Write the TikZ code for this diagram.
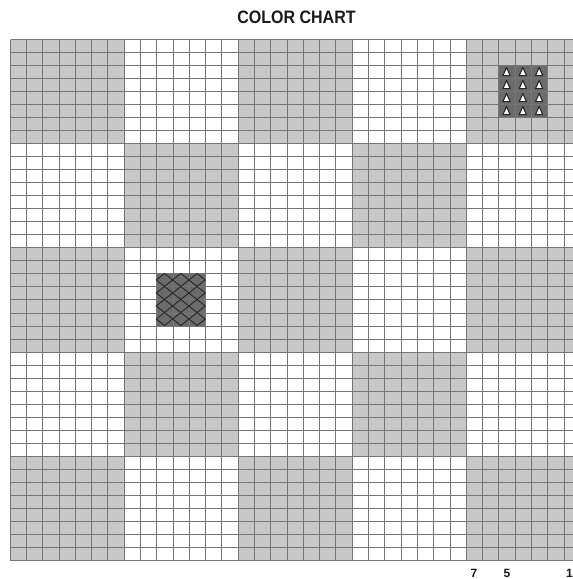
\documentclass[tikz,border=0pt]{standalone}
\usepackage{fontspec}
\setmainfont{Liberation Sans}
\definecolor{cgray}{HTML}{C8C8C8}
\definecolor{cdark}{HTML}{6B6B6B}
\definecolor{cline}{HTML}{767676}
\definecolor{ctext}{HTML}{1A1A1A}
\tikzset{
  gridline/.style={draw=cline,line width=1.15pt},
  hatch/.style={draw=black!85,line width=0.9pt},
  tri/.style={fill=white,draw=black!85,line width=1.1pt,line join=round},
  titletext/.style={font=\bfseries\fontsize{18}{20}\selectfont,text=ctext,inner sep=0pt},
  numtext/.style={font=\bfseries\fontsize{12}{14}\selectfont,text=ctext,inner sep=0pt}
}
\begin{document}
\begin{tikzpicture}[x=1pt,y=-1pt]
\useasboundingbox (0,0) rectangle (573,579);
\fill[white] (0,0) rectangle (573,579);
\def\W{16.29}\def\H{13.025}\def\X{9.7}\def\Y{39}
\begin{scope}
\clip (0,0) rectangle (573,579);
% gray blocks
\foreach \c/\r in {0/0,2/0,4/0,1/1,3/1,0/2,2/2,4/2,1/3,3/3,0/4,2/4,4/4}
  \fill[cgray] (\X+\c*7*\W,\Y+\r*8*\H) rectangle ++(7*\W,8*\H);
% dark blocks
\fill[cdark] (\X+30*\W,\Y+2*\H) rectangle ++(3*\W,4*\H);
\fill[cdark] (\X+9*\W,\Y+18*\H) rectangle ++(3*\W,4*\H);
% grid (snapped to pixel centres)
\pgfmathsetmacro{\ybot}{round(\Y+40*\H)+0.5}
\pgfmathsetmacro{\ytop}{round(\Y)+0.5}
\foreach \i in {0,...,35}{
  \pgfmathsetmacro{\xx}{round(\X+\i*\W)+0.5}
  \draw[gridline] (\xx,\ytop) -- (\xx,\ybot);
}
\pgfmathsetmacro{\xl}{round(\X)+0.5}
\foreach \j in {0,...,40}{
  \pgfmathsetmacro{\yy}{round(\Y+\j*\H)+0.5}
  \draw[gridline] (\xl,\yy) -- (580,\yy);
}
% crosshatch
\foreach \i in {9,10,11}
  \foreach \j in {18,...,21}
    \draw[hatch] (\X+\i*\W+0.5*\W,\Y+\j*\H) -- (\X+\i*\W+\W,\Y+\j*\H+0.5*\H)
      -- (\X+\i*\W+0.5*\W,\Y+\j*\H+\H) -- (\X+\i*\W,\Y+\j*\H+0.5*\H) -- cycle;
% triangles
\foreach \i in {30,31,32}
  \foreach \j in {2,...,5}
    \draw[tri] (\X+\i*\W+0.5*\W-3.6,\Y+\j*\H+0.5*\H+4) -- (\X+\i*\W+0.5*\W+3.6,\Y+\j*\H+0.5*\H+4)
      -- (\X+\i*\W+0.5*\W,\Y+\j*\H+0.5*\H-4.2) -- cycle;
\end{scope}
% title
\node[titletext] (title) at (296.5,17.5) {\scalebox{0.89}[1]{COLOR CHART}};
% bottom numbers
\node[numtext] (n7) at (474,573) {7};
\node[numtext] (n5) at (507,573) {5};
\node[numtext] (n1) at (569.5,573) {1};
\end{tikzpicture}
\end{document}
